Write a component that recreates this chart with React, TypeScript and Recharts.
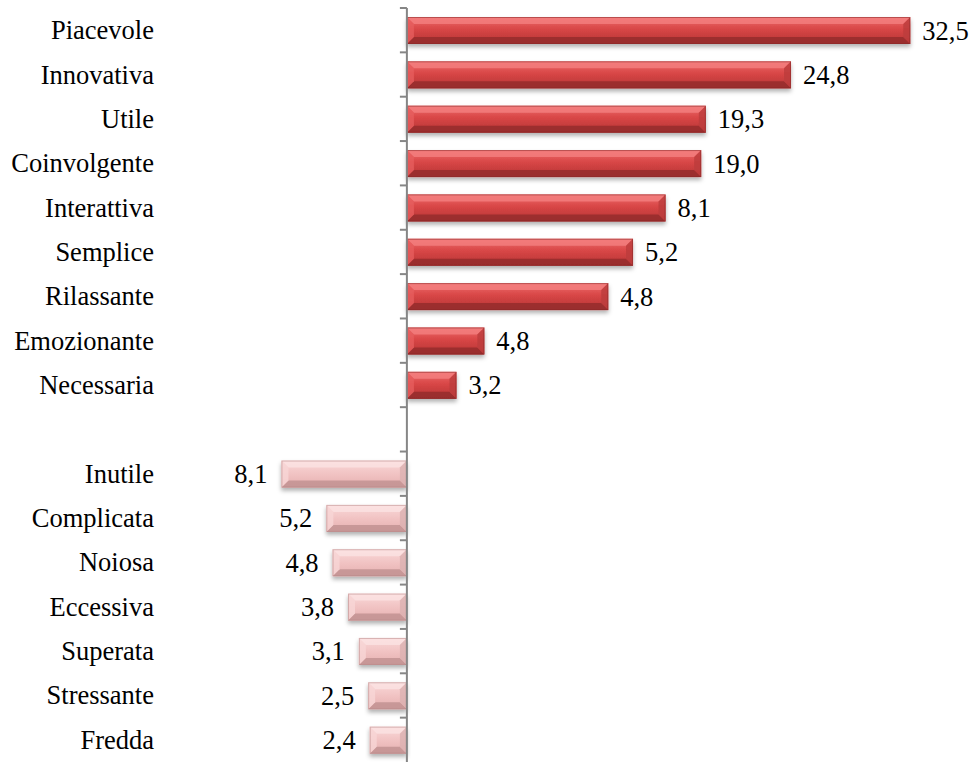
import React from 'react';
import { BarChart, Bar, XAxis, YAxis, ReferenceLine, LabelList } from 'recharts';

// Positive attributes (bar lengths as drawn in the reference, and the printed labels)
const positiveCategories = ['Piacevole', 'Innovativa', 'Utile', 'Coinvolgente', 'Interattiva', 'Semplice', 'Rilassante', 'Emozionante', 'Necessaria'];
const positiveBarValues = [32.5, 24.8, 19.3, 19.0, 16.7, 14.6, 13.0, 5.0, 3.2];
const positiveLabels = ['32,5', '24,8', '19,3', '19,0', '8,1', '5,2', '4,8', '4,8', '3,2'];

// Negative attributes
const negativeCategories = ['Inutile', 'Complicata', 'Noiosa', 'Eccessiva', 'Superata', 'Stressante', 'Fredda'];
const negativeBarValues = [8.1, 5.2, 4.8, 3.8, 3.1, 2.5, 2.4];
const negativeLabels = ['8,1', '5,2', '4,8', '3,8', '3,1', '2,5', '2,4'];

type Row = { name: string; value: number | null; neg: boolean; label: string };
const data: Row[] = [
  ...positiveCategories.map((name, i) => ({ name, value: positiveBarValues[i], neg: false, label: positiveLabels[i] })),
  { name: ' ', value: null, neg: false, label: '' },
  ...negativeCategories.map((name, i) => ({ name, value: -negativeBarValues[i], neg: true, label: negativeLabels[i] })),
];

const W = 972;
const H = 762;
const Y_AXIS_W = 252;
const M_TOP = 8;
const M_RIGHT = 23;
const M_BOTTOM = 0;
const X_MIN = -10;
const X_MAX = 35;
const PLOT_W = W - Y_AXIS_W - M_RIGHT;
const PLOT_H = H - M_TOP - M_BOTTOM;
const X_ZERO = Y_AXIS_W + ((0 - X_MIN) / (X_MAX - X_MIN)) * PLOT_W;
const BAND = PLOT_H / data.length;
const LABEL_RIGHT = 154;
const FONT = 'Liberation Serif';
const FONT_SIZE = 26.5;

const CategoryTick = (props: any) => {
  const { y, payload } = props;
  return (
    <g>
      <text x={LABEL_RIGHT} y={y} dy="0.34em" textAnchor="end" style={{ fontFamily: FONT, fontSize: FONT_SIZE }} fill="#000">
        {payload.value}
      </text>
      <line x1={X_ZERO - 7} x2={X_ZERO} y1={y - BAND / 2} y2={y - BAND / 2} stroke="#868686" strokeWidth={2} />
    </g>
  );
};

const BevelBar = (props: any) => {
  const { x, y, width, height, payload } = props;
  if (payload == null || payload.value == null || !width) return null;
  const x0 = Math.min(x, x + width);
  const w = Math.abs(width);
  const h = height;
  const b = Math.min(7, w / 2, h / 2);
  const neg = payload.neg;
  const body = neg ? 'url(#pinkBody)' : 'url(#redBody)';
  const top = neg ? '#fbe2e2' : '#f48080';
  const bottom = neg ? '#bf9090' : '#922c2c';
  const left = neg ? '#f8d6d6' : '#e65e5e';
  const right = neg ? '#dbb0b0' : '#bb3c3c';
  const outline = neg ? '#b88888' : '#8a2a2a';
  return (
    <g filter="url(#barShadow)">
      <rect x={x0} y={y} width={w} height={h} fill={body} />
      <polygon points={`${x0},${y} ${x0 + w},${y} ${x0 + w - b},${y + b} ${x0 + b},${y + b}`} fill={top} opacity={0.8} />
      <polygon points={`${x0},${y + h} ${x0 + w},${y + h} ${x0 + w - b},${y + h - b} ${x0 + b},${y + h - b}`} fill={bottom} opacity={0.8} />
      <polygon points={`${x0},${y} ${x0 + b},${y + b} ${x0 + b},${y + h - b} ${x0},${y + h}`} fill={left} opacity={0.8} />
      <polygon points={`${x0 + w},${y} ${x0 + w - b},${y + b} ${x0 + w - b},${y + h - b} ${x0 + w},${y + h}`} fill={right} opacity={0.8} />
      <rect x={x0 + 0.5} y={y + 0.5} width={w - 1} height={h - 1} fill="none" stroke={outline} strokeWidth={1} opacity={0.55} />
    </g>
  );
};

const ValueLabel = (props: any) => {
  const { x, y, width, height, value } = props;
  if (value == null || value === '' || x == null || width == null) return null;
  const cy = y + height / 2;
  const leftEdge = Math.min(x, x + width);
  const rightEdge = Math.max(x, x + width);
  const isNeg = leftEdge + (rightEdge - leftEdge) / 2 < X_ZERO;
  if (!isNeg) {
    return (
      <text x={rightEdge + 12} y={cy} dy="0.34em" textAnchor="start" style={{ fontFamily: FONT, fontSize: FONT_SIZE }} fill="#000">
        {value}
      </text>
    );
  }
  return (
    <text x={leftEdge - 14} y={cy} dy="0.34em" textAnchor="end" style={{ fontFamily: FONT, fontSize: FONT_SIZE }} fill="#000">
      {value}
    </text>
  );
};

export default function App() {
  return (
    <div style={{ position: 'absolute', left: 0, top: 0, width: W, height: H, background: '#fff' }}>
      <BarChart
        width={W}
        height={H}
        data={data}
        layout="vertical"
        margin={{ top: M_TOP, right: M_RIGHT, bottom: M_BOTTOM, left: 0 }}
        barSize={27}
      >
        <defs>
          <linearGradient id="redBody" x1="0" y1="0" x2="0" y2="1">
            <stop offset="0%" stopColor="#ee6c6c" />
            <stop offset="45%" stopColor="#d84646" />
            <stop offset="100%" stopColor="#b53535" />
          </linearGradient>
          <linearGradient id="pinkBody" x1="0" y1="0" x2="0" y2="1">
            <stop offset="0%" stopColor="#f9d9d9" />
            <stop offset="50%" stopColor="#f1c3c3" />
            <stop offset="100%" stopColor="#e5afaf" />
          </linearGradient>
          <filter id="barShadow" x="-10%" y="-30%" width="120%" height="180%">
            <feDropShadow dx="0" dy="3" stdDeviation="2" floodColor="#000" floodOpacity="0.3" />
          </filter>
        </defs>
        <XAxis type="number" domain={[X_MIN, X_MAX]} hide allowDataOverflow />
        <YAxis
          type="category"
          dataKey="name"
          width={Y_AXIS_W}
          axisLine={false}
          tickLine={false}
          interval={0}
          tick={<CategoryTick />}
        />
        <ReferenceLine x={0} stroke="#868686" strokeWidth={2} />
        <Bar dataKey="value" shape={<BevelBar />} isAnimationActive={false}>
          <LabelList dataKey="label" content={<ValueLabel />} />
        </Bar>
      </BarChart>
    </div>
  );
}
